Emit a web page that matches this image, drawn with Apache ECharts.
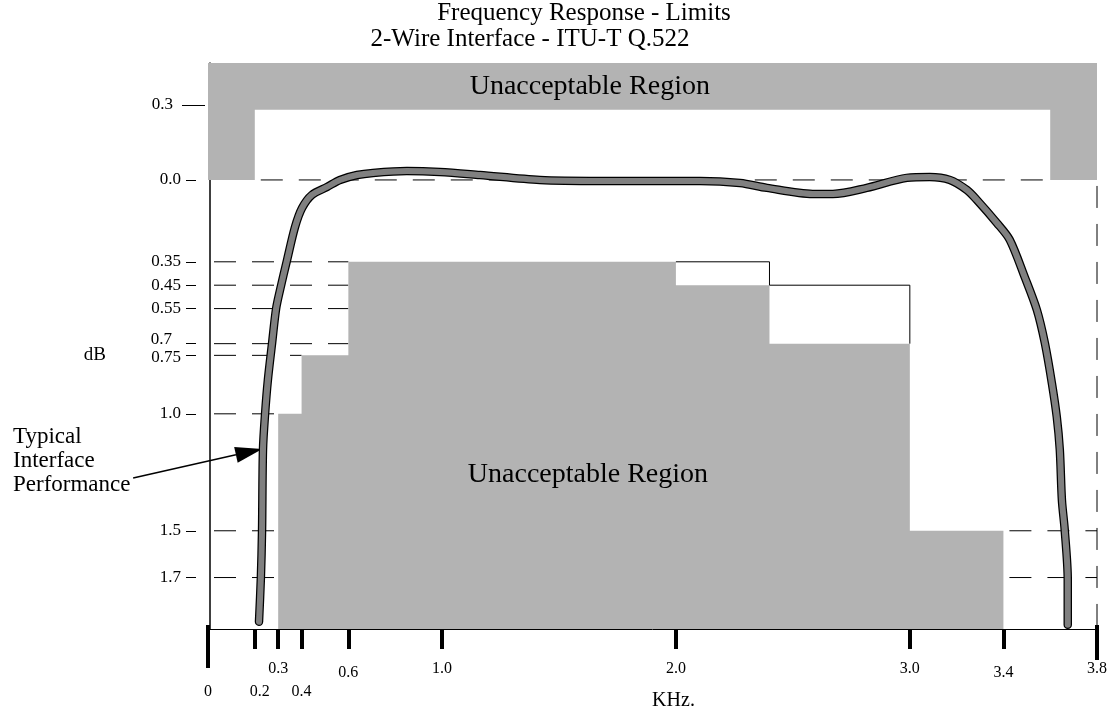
<!DOCTYPE html>
<html>
<head>
<meta charset="utf-8">
<title>Frequency Response - Limits</title>
<script src="https://cdn.jsdelivr.net/npm/echarts@6/dist/echarts.min.js"></script>
<style>
  html, body { margin: 0; padding: 0; background: #fff; }
  #chart { width: 1118px; height: 713px; }
</style>
</head>
<body>
<div id="chart"></div>
<script>
// typical interface performance (kHz, dB loss)
var curveKHz = [0.218, 0.226, 0.231, 0.235, 0.244, 0.256, 0.274, 0.291, 0.308, 0.338, 0.372, 0.402, 0.444, 0.509, 0.564,
  0.637, 0.705, 0.850, 0.991, 1.162, 1.419, 1.675, 2.103, 2.274, 2.389, 2.585, 2.671, 2.816, 2.987, 3.085,
  3.171, 3.244, 3.286, 3.372, 3.427, 3.491, 3.543, 3.577, 3.607, 3.628, 3.641, 3.650, 3.662, 3.675, 3.675];
var curveDb = [1.889, 1.701, 1.500, 1.154, 1.000, 0.855, 0.697, 0.551, 0.470, 0.342, 0.201, 0.120, 0.064, 0.030, 0.000,
  -0.021, -0.030, -0.038, -0.034, -0.021, 0.000, 0.004, 0.004, 0.013, 0.034, 0.060, 0.060, 0.034, -0.009, -0.013,
  0.000, 0.043, 0.085, 0.184, 0.256, 0.415, 0.556, 0.697, 0.868, 1.013, 1.154, 1.368, 1.496, 1.709, 1.902];

// lower limit mask (steps)
var lowerStepKHz = [0.3, 0.4, 0.6, 2.0, 2.4, 3.0, 3.4];
var lowerStepDb = [1.0, 0.75, 0.35, 0.45, 0.7, 1.5];

// upper limit mask
var upperBandKHz = [0, 0.2, 3.6, 3.8];
var upperInnerDb = -0.3;
var upperLegDb = 0;

// thin outline of the other limit
var outlineKHz = [2.0, 2.4, 2.4, 3.0, 3.0];
var outlineDb = [0.35, 0.35, 0.45, 0.45, 0.7];

// dashed guides [kHz1, dB1, kHz2, dB2]
var guideSegments = [
  [0.2, 0, 3.6, 0],
  [0, 0.35, 0.6, 0.35], [0, 0.45, 0.6, 0.45], [0, 0.55, 0.6, 0.55], [0, 0.7, 0.6, 0.7], [0, 0.75, 0.4, 0.75],
  [0, 1.0, 0.3, 1.0], [0, 1.5, 0.3, 1.5], [0, 1.7, 0.3, 1.7],
  [3.4, 1.5, 3.8, 1.5], [3.4, 1.7, 3.8, 1.7],
  [3.8, 0, 3.8, 1.92]
];

// ticks
var xTickValues = [0, 0.2, 0.3, 0.4, 0.6, 1.0, 2.0, 3.0, 3.4, 3.8];
var xTickLabels = ['0', '0.2', '0.3', '0.4', '0.6', '1.0', '2.0', '3.0', '3.4', '3.8'];
var yTickValues = [-0.3, 0, 0.35, 0.45, 0.55, 0.7, 0.75, 1.0, 1.5, 1.7];
var yTickLabels = ['0.3', '0.0', '0.35', '0.45', '0.55', '0.7', '0.75', '1.0', '1.5', '1.7'];

var dbTop = -0.5, dbBottom = 1.92;
var serif = '"Liberation Serif", "DejaVu Serif", serif';
var grey = '#b3b3b3';

function findLabel(values, labels, v) {
  for (var i = 0; i < values.length; i++) {
    if (Math.abs(values[i] - v) < 1e-6) return labels[i];
  }
  return '';
}

var dom = document.getElementById('chart');
var myChart = echarts.init(dom);

myChart.setOption({
  animation: false,
  backgroundColor: '#fff',
  title: [
    {
      text: 'Frequency Response - Limits',
      left: 584, top: 1, textAlign: 'center', padding: 0,
      textStyle: { fontFamily: serif, fontSize: 25, fontWeight: 'normal', color: '#000' }
    },
    {
      text: '2-Wire Interface - ITU-T Q.522',
      left: 530, top: 27, textAlign: 'center', padding: 0,
      textStyle: { fontFamily: serif, fontSize: 25, fontWeight: 'normal', color: '#000' }
    }
  ],
  grid: { left: 208, right: 21, top: 63, bottom: 84, containLabel: false, outerBoundsMode: 'none' },
  xAxis: [
    {
      type: 'value', min: 0, max: 3.8, position: 'bottom',
      name: 'KHz.', nameLocation: 'middle', nameGap: 62, nameMoveOverlap: false,
      nameTextStyle: { fontFamily: serif, fontSize: 20, color: '#000', padding: [0, 0, 0, 42] },
      axisLine: { show: true, onZero: false, lineStyle: { color: '#000', width: 1 } },
      axisTick: { show: true, customValues: xTickValues.slice(1, -1), length: 20, lineStyle: { color: '#000', width: 4 } },
      splitLine: { show: false },
      axisLabel: {
        customValues: xTickValues, margin: 32, color: '#000', fontFamily: serif, fontSize: 16,
        formatter: function (v) {
          var t = findLabel(xTickValues, xTickLabels, v);
          if (v === 0 || v === 0.4) return '{lo|' + t + '}';
          if (v === 0.2) return '{lo2|' + t + '}';
          if (v === 0.6 || v === 3.4) return '{mid|' + t + '}';
          return '{up|' + t + '}';
        },
        rich: {
          up: { fontFamily: serif, fontSize: 16, color: '#000' },
          mid: { fontFamily: serif, fontSize: 16, color: '#000', padding: [4, 0, 0, 0] },
          lo: { fontFamily: serif, fontSize: 16, color: '#000', padding: [23, 0, 0, 0] },
          lo2: { fontFamily: serif, fontSize: 16, color: '#000', padding: [23, 0, 0, 10] }
        }
      }
    },
    {
      // long tick at the origin
      type: 'value', min: 0, max: 3.8, position: 'bottom', offset: -4,
      axisLine: { show: false, onZero: false },
      axisTick: { show: true, customValues: [0], length: 43, lineStyle: { color: '#000', width: 4 } },
      axisLabel: { show: true, customValues: [0], formatter: function () { return ''; } },
      splitLine: { show: false }
    },
    {
      // long tick at the band edge
      type: 'value', min: 0, max: 3.8, position: 'bottom', offset: -4,
      axisLine: { show: false, onZero: false },
      axisTick: { show: true, customValues: [3.8], length: 35, lineStyle: { color: '#000', width: 4 } },
      axisLabel: { show: true, customValues: [3.8], formatter: function () { return ''; } },
      splitLine: { show: false }
    }
  ],
  yAxis: [
    {
      type: 'value', min: dbTop, max: dbBottom, inverse: true, position: 'left', offset: 12,
      name: 'dB', nameLocation: 'middle', nameRotate: 0, nameGap: 90, nameMoveOverlap: false,
      nameTextStyle: { fontFamily: serif, fontSize: 19, color: '#000', verticalAlign: 'top' },
      axisLine: { show: false, onZero: false },
      axisTick: { show: true, customValues: yTickValues.slice(1), length: 10, lineStyle: { color: '#000', width: 1 } },
      splitLine: { show: false },
      axisLabel: {
        customValues: yTickValues, margin: 15, color: '#000', fontFamily: serif, fontSize: 17,
        formatter: function (v) {
          var t = findLabel(yTickValues, yTickLabels, v);
          if (Math.abs(v - 0.7) < 1e-6) return '{hi|' + t + '}';
          if (Math.abs(v - 0.75) < 1e-6) return '{lo|' + t + '}';
          if (Math.abs(v + 0.3) < 1e-6) return '{top|' + t + '}';
          return '{n|' + t + '}';
        },
        rich: {
          n: { fontFamily: serif, fontSize: 17, color: '#000' },
          top: { fontFamily: serif, fontSize: 17, color: '#000', padding: [0, 8, 10, 0] },
          hi: { fontFamily: serif, fontSize: 17, color: '#000', padding: [0, 9, 8, 0] },
          lo: { fontFamily: serif, fontSize: 17, color: '#000', padding: [5, 0, 0, 0] }
        }
      }
    },
    {
      type: 'value', min: dbTop, max: dbBottom, inverse: true, position: 'left', offset: -2,
      axisLine: { show: true, onZero: false, lineStyle: { color: '#000', width: 1.5 } },
      axisTick: { show: false },
      axisLabel: { show: false },
      splitLine: { show: false }
    },
    {
      // long tick beside the upper limit label
      type: 'value', min: dbTop, max: dbBottom, inverse: true, position: 'left', offset: 3,
      axisLine: { show: false, onZero: false },
      axisTick: { show: true, customValues: [-0.32], length: 23, lineStyle: { color: '#000', width: 1 } },
      axisLabel: { show: true, customValues: [-0.32], formatter: function () { return ''; } },
      splitLine: { show: false }
    }
  ],
  graphic: [
    {
      type: 'text', left: 13, top: 425,
      style: {
        text: 'Typical\nInterface\nPerformance',
        fontFamily: serif, fontSize: 23, lineHeight: 24, fill: '#000'
      }
    }
  ],
  series: [
    {
      // dashed guide lines
      type: 'custom', name: 'guides',
      encode: { x: [0, 2], y: [1, 3] },
      data: guideSegments,
      renderItem: function (params, api) {
        var p1 = api.coord([api.value(0), api.value(1)]);
        var p2 = api.coord([api.value(2), api.value(3)]);
        return {
          type: 'line',
          shape: { x1: p1[0], y1: p1[1], x2: p2[0], y2: p2[1] },
          style: { stroke: '#000', lineWidth: 1, lineDash: [22, 16], lineDashOffset: -6 }
        };
      }
    },
    {
      // unacceptable regions
      type: 'custom', name: 'masks',
      data: [[0, 0]],
      renderItem: function (params, api) {
        var lo = [api.coord([lowerStepKHz[0], dbBottom])];
        for (var i = 0; i < lowerStepDb.length; i++) {
          lo.push(api.coord([lowerStepKHz[i], lowerStepDb[i]]));
          lo.push(api.coord([lowerStepKHz[i + 1], lowerStepDb[i]]));
        }
        lo.push(api.coord([lowerStepKHz[lowerStepKHz.length - 1], dbBottom]));
        var b = upperBandKHz;
        var up = [
          api.coord([b[0], dbTop]), api.coord([b[3], dbTop]),
          api.coord([b[3], upperLegDb]), api.coord([b[2], upperLegDb]),
          api.coord([b[2], upperInnerDb]), api.coord([b[1], upperInnerDb]),
          api.coord([b[1], upperLegDb]), api.coord([b[0], upperLegDb])
        ];
        return {
          type: 'group',
          children: [
            { type: 'polygon', shape: { points: lo }, style: { fill: grey } },
            { type: 'polygon', shape: { points: up }, style: { fill: grey } }
          ]
        };
      }
    },
    {
      type: 'line', name: 'outline',
      data: outlineKHz.map(function (x, i) { return [x, outlineDb[i]]; }),
      symbol: 'none',
      lineStyle: { color: '#000', width: 1 }
    },
    {
      type: 'line', name: 'curveEdge',
      data: curveKHz.map(function (x, i) { return [x, curveDb[i]]; }),
      symbol: 'none', smooth: 0.3,
      lineStyle: { color: '#000', width: 8.5, cap: 'round', join: 'round' }
    },
    {
      type: 'line', name: 'curve',
      data: curveKHz.map(function (x, i) { return [x, curveDb[i]]; }),
      symbol: 'none', smooth: 0.3,
      lineStyle: { color: '#808080', width: 6, cap: 'round', join: 'round' }
    },
    {
      // region captions
      type: 'custom', name: 'captions',
      data: [[1.632, -0.40], [1.624, 1.261]],
      renderItem: function (params, api) {
        var p = api.coord([api.value(0), api.value(1)]);
        return {
          type: 'text', x: p[0], y: p[1],
          style: {
            text: 'Unacceptable Region', fontFamily: serif, fontSize: 28, fill: '#000',
            align: 'center', verticalAlign: 'middle'
          }
        };
      }
    },
    {
      // annotation arrow
      type: 'custom', name: 'arrow', clip: false,
      data: [[-0.32, 1.274, 0.232, 1.15]],
      renderItem: function (params, api) {
        var a = api.coord([api.value(0), api.value(1)]);
        var b = api.coord([api.value(2), api.value(3)]);
        var dx = b[0] - a[0], dy = b[1] - a[1];
        var len = Math.sqrt(dx * dx + dy * dy);
        var ux = dx / len, uy = dy / len;
        var hl = 27, hw = 8;
        var bx = b[0] - ux * hl, by = b[1] - uy * hl;
        return {
          type: 'group',
          children: [
            { type: 'line', shape: { x1: a[0], y1: a[1], x2: bx, y2: by }, style: { stroke: '#000', lineWidth: 1.5 } },
            {
              type: 'polygon',
              shape: { points: [[b[0], b[1]], [bx - uy * hw, by + ux * hw], [bx + uy * hw, by - ux * hw]] },
              style: { fill: '#000' }
            }
          ]
        };
      }
    }
  ]
});
</script>
</body>
</html>
